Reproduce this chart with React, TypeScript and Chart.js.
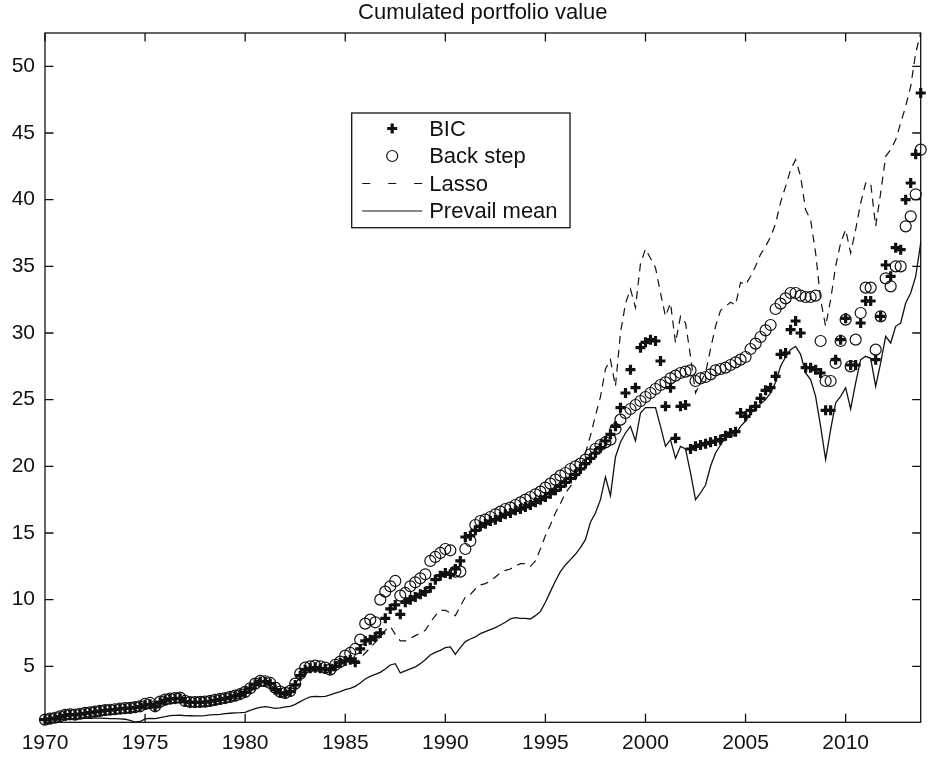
import React, { useEffect, useRef } from "react";
import { Chart, registerables } from "chart.js";

Chart.register(...registerables);

const TITLE = "Cumulated portfolio value";
const SERIES_NAMES = ["BIC", "Back step", "Lasso", "Prevail mean"];
const START_YEAR = 1970;
const X_TICKS = [1970, 1975, 1980, 1985, 1990, 1995, 2000, 2005, 2010];
const Y_TICKS = [5, 10, 15, 20, 25, 30, 35, 40, 45, 50];

// quarterly values, 1970Q1 .. 2013Q4
const BIC = [
  1.00, 1.05, 1.12, 1.22, 1.32, 1.38, 1.35, 1.42, 1.48, 1.52, 1.58, 1.64,
  1.70, 1.72, 1.76, 1.80, 1.84, 1.86, 1.92, 1.98, 2.10, 2.15, 1.95, 2.30,
  2.45, 2.55, 2.58, 2.60, 2.35, 2.30, 2.30, 2.30, 2.32, 2.38, 2.45, 2.52,
  2.60, 2.68, 2.78, 2.90, 3.05, 3.30, 3.65, 3.85, 3.85, 3.70, 3.25, 3.00,
  2.95, 3.10, 3.60, 4.30, 4.75, 4.85, 4.90, 4.85, 4.80, 4.75, 5.00, 5.25,
  5.40, 5.50, 5.30, 6.30, 6.90, 7.00, 7.20, 7.50, 8.60, 9.30, 9.60, 8.90,
  9.80, 10.00, 10.20, 10.40, 10.60, 10.90, 11.50, 11.80, 12.00, 11.90, 12.30, 12.90,
  14.70, 14.80, 15.20, 15.50, 15.70, 15.90, 16.00, 16.20, 16.40, 16.50, 16.70, 16.80,
  16.95, 17.10, 17.30, 17.50, 17.70, 17.95, 18.20, 18.50, 18.80, 19.10, 19.40, 19.80,
  20.20, 20.60, 21.00, 21.40, 21.90, 22.40, 23.00, 24.40, 25.50, 27.25, 25.90, 28.90,
  29.30, 29.50, 29.40, 27.90, 24.50, 25.90, 22.10, 24.50, 24.60, 21.30, 21.50, 21.60,
  21.70, 21.80, 21.90, 22.00, 22.30, 22.50, 22.60, 24.00, 23.75, 24.20, 24.50, 25.10,
  25.70, 25.90, 26.75, 28.40, 28.50, 30.25, 30.90, 30.00, 27.40, 27.40, 27.25, 27.00,
  24.20, 24.20, 28.00, 29.50, 31.10, 27.60, 27.60, 30.75, 32.40, 32.40, 28.00, 31.25,
  35.10, 34.25, 36.40, 36.25, 40.00, 41.25, 43.40, 48.00,
];

const BACK_STEP = [
  1.00, 1.07, 1.14, 1.25, 1.35, 1.40, 1.38, 1.44, 1.50, 1.55, 1.60, 1.66,
  1.72, 1.74, 1.78, 1.82, 1.86, 1.88, 1.94, 2.00, 2.18, 2.25, 2.00, 2.35,
  2.50, 2.58, 2.62, 2.65, 2.40, 2.32, 2.32, 2.33, 2.35, 2.40, 2.48, 2.55,
  2.62, 2.70, 2.80, 2.92, 3.08, 3.35, 3.70, 3.90, 3.88, 3.75, 3.40, 3.10,
  3.00, 3.15, 3.70, 4.45, 4.90, 5.00, 5.05, 5.00, 4.90, 4.75, 5.10, 5.35,
  5.80, 6.00, 6.30, 7.00, 8.20, 8.50, 8.30, 10.00, 10.60, 11.00, 11.40, 10.30,
  10.50, 11.00, 11.30, 11.60, 11.90, 12.90, 13.20, 13.50, 13.80, 13.70, 12.10, 12.10,
  13.80, 14.40, 15.60, 15.90, 16.00, 16.20, 16.40, 16.60, 16.80, 16.90, 17.10, 17.30,
  17.50, 17.70, 17.90, 18.10, 18.40, 18.70, 19.00, 19.30, 19.50, 19.80, 20.00, 20.20,
  20.50, 20.90, 21.30, 21.60, 21.80, 22.00, 22.80, 23.50, 24.00, 24.30, 24.60, 24.90,
  25.20, 25.50, 25.80, 26.10, 26.30, 26.60, 26.80, 27.00, 27.10, 27.20, 26.40, 26.60,
  26.70, 26.90, 27.20, 27.30, 27.40, 27.60, 27.80, 28.00, 28.20, 28.80, 29.20, 29.70,
  30.20, 30.60, 31.80, 32.20, 32.60, 33.00, 33.00, 32.80, 32.70, 32.70, 32.80, 29.40,
  26.40, 26.40, 27.75, 29.40, 31.00, 27.50, 29.50, 31.50, 33.40, 33.40, 28.75, 31.25,
  34.10, 33.50, 35.00, 35.00, 38.00, 38.75, 40.40, 43.75,
];

const LASSO = [
  1.00, 1.05, 1.11, 1.21, 1.31, 1.37, 1.34, 1.41, 1.47, 1.51, 1.57, 1.63,
  1.69, 1.71, 1.75, 1.79, 1.83, 1.85, 1.91, 1.97, 2.08, 2.12, 1.95, 2.28,
  2.42, 2.52, 2.55, 2.58, 2.33, 2.28, 2.28, 2.28, 2.30, 2.36, 2.42, 2.50,
  2.58, 2.65, 2.75, 2.88, 3.02, 3.28, 3.60, 3.80, 3.80, 3.68, 3.25, 3.00,
  2.95, 3.10, 3.60, 4.30, 4.72, 4.82, 4.88, 4.82, 4.78, 4.72, 4.98, 5.20,
  5.30, 5.40, 5.20, 5.60, 6.00, 6.40, 6.80, 7.20, 7.70, 8.00, 7.40, 6.90,
  6.90, 7.10, 7.30, 7.50, 7.70, 8.30, 8.80, 9.20, 9.20, 9.00, 8.80, 9.50,
  10.20, 10.40, 10.80, 11.10, 11.20, 11.40, 11.70, 12.00, 12.20, 12.30, 12.50, 12.70,
  12.70, 12.50, 12.90, 13.80, 14.80, 15.60, 16.50, 17.20, 18.00, 18.50, 19.00, 19.80,
  21.00, 22.30, 23.80, 25.20, 27.30, 28.00, 26.00, 30.00, 32.20, 33.30, 31.90, 35.20,
  36.30, 35.60, 34.90, 33.00, 31.25, 32.25, 29.25, 31.25, 30.75, 28.25, 25.50, 26.30,
  27.00, 28.80, 30.50, 31.70, 32.00, 32.30, 32.10, 33.80, 33.60, 34.25, 35.00, 35.90,
  36.50, 37.20, 38.20, 39.80, 41.00, 42.25, 43.00, 41.75, 39.25, 38.50, 36.00, 32.50,
  30.50, 32.50, 35.00, 36.75, 37.75, 36.00, 37.75, 39.75, 41.25, 41.25, 38.00, 40.50,
  43.25, 43.75, 44.50, 45.75, 47.00, 48.50, 51.00, 52.50,
];

const PREVAIL_MEAN = [
  1.00, 1.00, 0.98, 1.02, 1.05, 1.06, 1.05, 1.07, 1.09, 1.10, 1.11, 1.12,
  1.10, 1.08, 1.08, 1.06, 1.03, 0.95, 0.82, 0.86, 1.05, 1.10, 1.08, 1.15,
  1.22, 1.30, 1.32, 1.33, 1.30, 1.29, 1.28, 1.28, 1.30, 1.35, 1.38, 1.40,
  1.45, 1.48, 1.50, 1.52, 1.55, 1.70, 1.82, 1.92, 1.98, 1.92, 1.85, 1.88,
  1.95, 2.00, 2.15, 2.35, 2.55, 2.70, 2.75, 2.72, 2.75, 2.85, 2.98, 3.10,
  3.25, 3.35, 3.50, 3.75, 4.05, 4.25, 4.40, 4.55, 4.80, 5.10, 5.20, 4.50,
  4.65, 4.80, 4.95, 5.20, 5.50, 5.85, 6.05, 6.20, 6.40, 6.45, 5.90, 6.40,
  6.85, 7.05, 7.20, 7.45, 7.60, 7.75, 7.90, 8.10, 8.30, 8.55, 8.65, 8.60,
  8.60, 8.55, 8.80, 9.10, 9.80, 10.60, 11.40, 12.10, 12.60, 13.00, 13.40, 13.90,
  14.50, 15.80, 16.50, 17.50, 19.20, 17.80, 20.70, 21.80, 22.50, 23.00, 21.90, 24.00,
  24.40, 24.40, 24.40, 23.00, 21.50, 22.00, 20.60, 21.50, 21.30, 19.50, 17.50, 18.00,
  18.60, 20.00, 21.00, 21.60, 22.20, 22.20, 22.40, 23.00, 23.40, 24.00, 24.30, 24.70,
  25.00, 25.50, 26.30, 27.50, 28.20, 28.75, 29.00, 28.40, 27.00, 26.50, 25.25, 23.00,
  20.50, 22.75, 24.75, 25.25, 25.90, 24.30, 26.25, 28.00, 28.25, 28.10, 26.00, 27.75,
  29.75, 29.25, 30.50, 30.75, 32.25, 33.00, 34.25, 36.75,
];

const QUARTERS = BIC.map((_, i) => START_YEAR + i / 4);
const toPoints = (vals: number[]) => vals.map((v, i) => ({ x: QUARTERS[i], y: v }));

const FONT = '"Liberation Sans", Arial, Helvetica, sans-serif';
const INK = "#111111";

const framePlugin = {
  id: "matlabFrame",
  afterDraw(chart: any) {
    const { ctx, chartArea: a, scales } = chart;
    ctx.save();
    // box
    ctx.strokeStyle = INK;
    ctx.lineWidth = 1.3;
    ctx.setLineDash([]);
    ctx.strokeRect(a.left, a.top, a.right - a.left, a.bottom - a.top);
    // inward ticks on all sides
    const TL = 8.5;
    ctx.beginPath();
    X_TICKS.forEach((v) => {
      const px = scales.x.getPixelForValue(v);
      ctx.moveTo(px, a.bottom);
      ctx.lineTo(px, a.bottom - TL);
      ctx.moveTo(px, a.top);
      ctx.lineTo(px, a.top + TL);
    });
    Y_TICKS.forEach((v) => {
      const py = scales.y.getPixelForValue(v);
      ctx.moveTo(a.left, py);
      ctx.lineTo(a.left + TL, py);
      ctx.moveTo(a.right, py);
      ctx.lineTo(a.right - TL, py);
    });
    ctx.stroke();

    // title
    ctx.fillStyle = INK;
    ctx.font = `22px ${FONT}`;
    ctx.textAlign = "center";
    ctx.textBaseline = "alphabetic";
    ctx.fillText(TITLE, (a.left + a.right) / 2, 18.5);

    // legend
    const lx0 = a.left + 306.7;
    const lx1 = a.left + 525;
    const ly0 = 113;
    const ly1 = 227.7;
    ctx.fillStyle = "#ffffff";
    ctx.fillRect(lx0, ly0, lx1 - lx0, ly1 - ly0);
    ctx.lineWidth = 1.3;
    ctx.strokeStyle = INK;
    ctx.strokeRect(lx0, ly0, lx1 - lx0, ly1 - ly0);
    const rows = [128.5, 156, 183.5, 211];
    const symX = lx0 + 40.5;
    const lineA = lx0 + 10.5;
    const lineB = lx0 + 70.5;
    const textX = lx0 + 77.5;
    // BIC cross
    ctx.lineWidth = 3.2;
    ctx.beginPath();
    ctx.moveTo(symX - 5, rows[0]);
    ctx.lineTo(symX + 5, rows[0]);
    ctx.moveTo(symX, rows[0] - 5);
    ctx.lineTo(symX, rows[0] + 5);
    ctx.stroke();
    // Back step circle
    ctx.lineWidth = 1.2;
    ctx.beginPath();
    ctx.arc(symX, rows[1], 5.5, 0, Math.PI * 2);
    ctx.stroke();
    // Lasso dashed
    ctx.lineWidth = 1.2;
    ctx.setLineDash([8, 18]);
    ctx.beginPath();
    ctx.moveTo(lineA, rows[2]);
    ctx.lineTo(lineB, rows[2]);
    ctx.stroke();
    ctx.setLineDash([]);
    // Prevail solid
    ctx.beginPath();
    ctx.moveTo(lineA, rows[3]);
    ctx.lineTo(lineB, rows[3]);
    ctx.stroke();
    // texts
    ctx.fillStyle = INK;
    ctx.font = `22px ${FONT}`;
    ctx.textAlign = "left";
    ctx.textBaseline = "middle";
    SERIES_NAMES.forEach((name, i) => ctx.fillText(name, textX, rows[i] + 1));
    ctx.restore();
  },
};

export default function App() {
  const ref = useRef<HTMLCanvasElement | null>(null);

  useEffect(() => {
    if (!ref.current) return;
    const tickFont = { family: FONT, size: 21 };
    const chart = new Chart(ref.current, {
      type: "scatter",
      data: {
        datasets: [
          {
            label: SERIES_NAMES[0],
            data: toPoints(BIC),
            showLine: false,
            pointStyle: "cross",
            pointRadius: 5,
            pointBorderWidth: 3.2,
            borderColor: INK,
            backgroundColor: INK,
            clip: false,
            order: 4,
          },
          {
            label: SERIES_NAMES[1],
            data: toPoints(BACK_STEP),
            showLine: false,
            pointStyle: "circle",
            pointRadius: 5.5,
            pointBorderWidth: 1.2,
            borderColor: INK,
            backgroundColor: "rgba(0,0,0,0)",
            clip: false,
            order: 3,
          },
          {
            label: SERIES_NAMES[2],
            data: toPoints(LASSO),
            showLine: true,
            pointRadius: 0,
            borderColor: INK,
            borderWidth: 1.2,
            borderDash: [8, 6],
            tension: 0,
            clip: false,
            order: 2,
          },
          {
            label: SERIES_NAMES[3],
            data: toPoints(PREVAIL_MEAN),
            showLine: true,
            pointRadius: 0,
            borderColor: INK,
            borderWidth: 1.3,
            tension: 0,
            clip: false,
            order: 1,
          },
        ],
      },
      options: {
        animation: false,
        responsive: false,
        events: [],
        layout: { padding: { top: 33, right: 8.3, left: 0, bottom: 0 } },
        plugins: {
          legend: { display: false },
          tooltip: { enabled: false },
          title: { display: false },
        },
        scales: {
          x: {
            type: "linear",
            min: 1970,
            max: 2013.75,
            grid: { display: false, drawTicks: false },
            border: { display: false },
            ticks: {
              font: tickFont,
              color: INK,
              padding: 8,
              maxRotation: 0,
              autoSkip: false,
              callback: (v: any) => String(v),
            },
            afterBuildTicks: (s: any) => {
              s.ticks = X_TICKS.map((v) => ({ value: v }));
            },
            afterFit: (s: any) => {
              s.height = 759 - 722.3;
            },
          },
          y: {
            type: "linear",
            min: 0.8,
            max: 52.5,
            grid: { display: false, drawTicks: false },
            border: { display: false },
            ticks: {
              font: tickFont,
              color: INK,
              padding: 10,
              autoSkip: false,
              callback: (v: any) => String(v),
            },
            afterBuildTicks: (s: any) => {
              s.ticks = Y_TICKS.map((v) => ({ value: v }));
            },
            afterFit: (s: any) => {
              s.width = 45;
            },
          },
        },
      },
      plugins: [framePlugin],
    });
    return () => chart.destroy();
  }, []);

  return (
    <div style={{ position: "absolute", left: 0, top: 0, width: 929, height: 759, background: "#fff" }}>
      <canvas ref={ref} width={929} height={759} style={{ width: 929, height: 759, display: "block" }} />
    </div>
  );
}
